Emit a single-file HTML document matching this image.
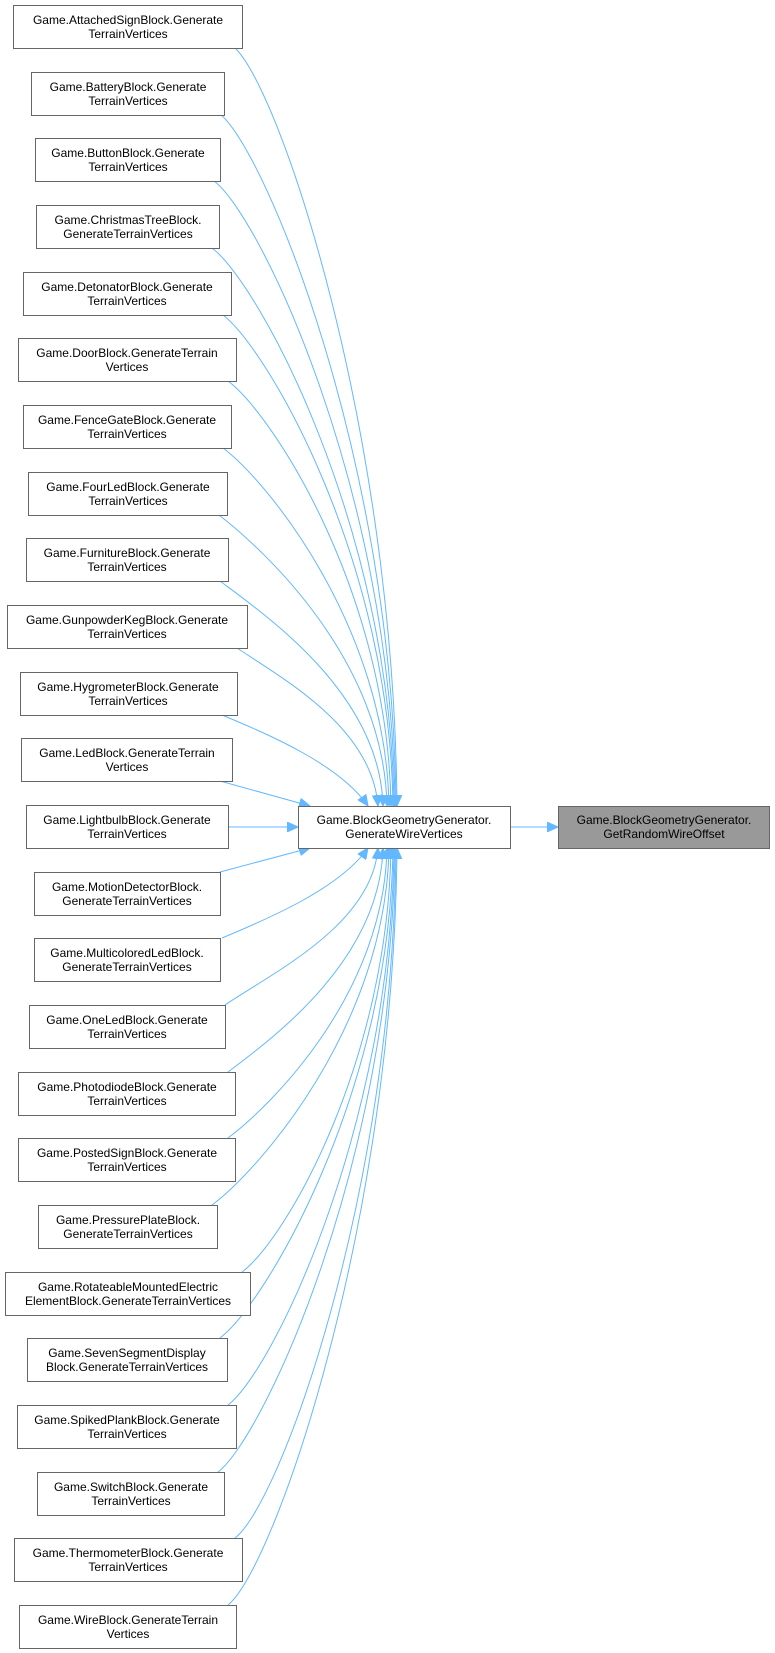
<!DOCTYPE html>
<html><head><meta charset="utf-8"><style>
html,body{margin:0;padding:0;background:#fff;}
svg{display:block;}
text{font-family:"Liberation Sans",sans-serif;font-size:12px;fill:#000;}
</style></head><body>
<svg width="775" height="1653" viewBox="0 0 775 1653" xmlns="http://www.w3.org/2000/svg">
<defs>
<marker id="a" markerUnits="userSpaceOnUse" markerWidth="12" markerHeight="10" refX="11" refY="5" orient="auto">
<path d="M0,0 L11,5 L0,10 Z" fill="#63b8ff" stroke="#63b8ff"/>
</marker>
</defs>
<g fill="none" stroke="#63b8ff" stroke-width="1" marker-end="url(#a)">
<path d="M235,48 C280,90 394,430 397,806"/>
<path d="M220,114 C265,150 393,460 396,806"/>
<path d="M214,181 C260,215 392,493 395,806"/>
<path d="M212,248 C258,282 391,527 394,806"/>
<path d="M223,315 C268,350 390,560 393,806"/>
<path d="M228,381 C273,415 388,593 391,806"/>
<path d="M223,448 C268,482 386,627 389,806"/>
<path d="M219,515 C264,550 384,660 387,806"/>
<path d="M220,581 C265,615 380,693 383,806"/>
<path d="M237,648 C285,680 372,728 378,806"/>
<path d="M222,715 C270,735 340,765 368,806"/>
<path d="M220,781 L310,806"/>
<path d="M228,827 L298,827"/>
<path d="M220,872 L310,848"/>
<path d="M222,938 C270,918 340,888 368,848"/>
<path d="M225,1005 C272,973 372,925 378,848"/>
<path d="M228,1072 C273,1038 380,960 383,848"/>
<path d="M228,1138 C273,1104 384,993 387,848"/>
<path d="M212,1205 C258,1171 386,1026 389,848"/>
<path d="M242,1272 C287,1238 388,1060 391,848"/>
<path d="M220,1338 C265,1304 390,1093 393,848"/>
<path d="M228,1405 C273,1371 391,1126 394,848"/>
<path d="M218,1472 C263,1438 392,1160 395,848"/>
<path d="M235,1538 C280,1504 393,1193 396,848"/>
<path d="M228,1605 C273,1570 394,1226 397,848"/>
<path d="M510,827 L558,827"/>
</g>
<g stroke="#666" stroke-width="1" fill="#fff">
<rect x="13.5" y="5.5" width="229" height="43"/>
<rect x="31.5" y="72.5" width="193" height="43"/>
<rect x="35.5" y="138.5" width="185" height="43"/>
<rect x="36.5" y="205.5" width="183" height="43"/>
<rect x="23.5" y="272.5" width="208" height="43"/>
<rect x="18.5" y="338.5" width="218" height="43"/>
<rect x="23.5" y="405.5" width="208" height="43"/>
<rect x="28.5" y="472.5" width="199" height="43"/>
<rect x="26.5" y="538.5" width="202" height="43"/>
<rect x="7.5" y="605.5" width="240" height="43"/>
<rect x="20.5" y="672.5" width="217" height="43"/>
<rect x="21.5" y="738.5" width="211" height="43"/>
<rect x="26.5" y="805.5" width="202" height="43"/>
<rect x="34.5" y="872.5" width="186" height="43"/>
<rect x="34.5" y="938.5" width="186" height="43"/>
<rect x="29.5" y="1005.5" width="196" height="43"/>
<rect x="18.5" y="1072.5" width="217" height="43"/>
<rect x="18.5" y="1138.5" width="217" height="43"/>
<rect x="38.5" y="1205.5" width="179" height="43"/>
<rect x="5.5" y="1272.5" width="245" height="43"/>
<rect x="27.5" y="1338.5" width="200" height="43"/>
<rect x="17.5" y="1405.5" width="219" height="43"/>
<rect x="37.5" y="1472.5" width="187" height="43"/>
<rect x="14.5" y="1538.5" width="228" height="43"/>
<rect x="19.5" y="1605.5" width="217" height="43"/>
<rect x="298.5" y="806.5" width="212" height="42"/>
<rect x="558.5" y="806.5" width="211" height="42" fill="#999"/>
</g>
<g text-anchor="middle">
<text x="128" y="24">Game.AttachedSignBlock.Generate</text><text x="128" y="38">TerrainVertices</text>
<text x="128" y="91">Game.BatteryBlock.Generate</text><text x="128" y="105">TerrainVertices</text>
<text x="128" y="157">Game.ButtonBlock.Generate</text><text x="128" y="171">TerrainVertices</text>
<text x="128" y="224">Game.ChristmasTreeBlock.</text><text x="128" y="238">GenerateTerrainVertices</text>
<text x="127" y="291">Game.DetonatorBlock.Generate</text><text x="127" y="305">TerrainVertices</text>
<text x="127" y="357">Game.DoorBlock.GenerateTerrain</text><text x="127" y="371">Vertices</text>
<text x="127" y="424">Game.FenceGateBlock.Generate</text><text x="127" y="438">TerrainVertices</text>
<text x="128" y="491">Game.FourLedBlock.Generate</text><text x="128" y="505">TerrainVertices</text>
<text x="127" y="557">Game.FurnitureBlock.Generate</text><text x="127" y="571">TerrainVertices</text>
<text x="127" y="624">Game.GunpowderKegBlock.Generate</text><text x="127" y="638">TerrainVertices</text>
<text x="128" y="691">Game.HygrometerBlock.Generate</text><text x="128" y="705">TerrainVertices</text>
<text x="127" y="757">Game.LedBlock.GenerateTerrain</text><text x="127" y="771">Vertices</text>
<text x="127" y="824">Game.LightbulbBlock.Generate</text><text x="127" y="838">TerrainVertices</text>
<text x="127" y="891">Game.MotionDetectorBlock.</text><text x="127" y="905">GenerateTerrainVertices</text>
<text x="127" y="957">Game.MulticoloredLedBlock.</text><text x="127" y="971">GenerateTerrainVertices</text>
<text x="127" y="1024">Game.OneLedBlock.Generate</text><text x="127" y="1038">TerrainVertices</text>
<text x="127" y="1091">Game.PhotodiodeBlock.Generate</text><text x="127" y="1105">TerrainVertices</text>
<text x="127" y="1157">Game.PostedSignBlock.Generate</text><text x="127" y="1171">TerrainVertices</text>
<text x="128" y="1224">Game.PressurePlateBlock.</text><text x="128" y="1238">GenerateTerrainVertices</text>
<text x="128" y="1291">Game.RotateableMountedElectric</text><text x="128" y="1305">ElementBlock.GenerateTerrainVertices</text>
<text x="127" y="1357">Game.SevenSegmentDisplay</text><text x="127" y="1371">Block.GenerateTerrainVertices</text>
<text x="127" y="1424">Game.SpikedPlankBlock.Generate</text><text x="127" y="1438">TerrainVertices</text>
<text x="131" y="1491">Game.SwitchBlock.Generate</text><text x="131" y="1505">TerrainVertices</text>
<text x="128" y="1557">Game.ThermometerBlock.Generate</text><text x="128" y="1571">TerrainVertices</text>
<text x="128" y="1624">Game.WireBlock.GenerateTerrain</text><text x="128" y="1638">Vertices</text>
<text x="404" y="824">Game.BlockGeometryGenerator.</text><text x="404" y="838">GenerateWireVertices</text>
<text x="664" y="824">Game.BlockGeometryGenerator.</text><text x="664" y="838">GetRandomWireOffset</text>
</g>
</svg>
</body></html>
